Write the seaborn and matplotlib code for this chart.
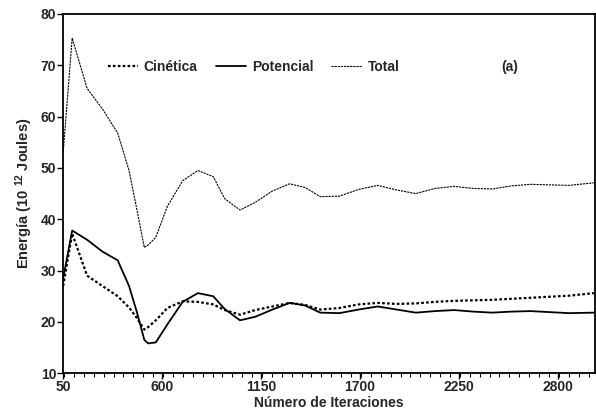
import numpy as np
import pandas as pd
import seaborn as sns
import matplotlib
matplotlib.use("Agg")
import matplotlib.pyplot as plt
from matplotlib.ticker import MultipleLocator, FixedLocator

iteraciones = [50, 100, 183, 268, 353, 416, 459, 501, 523, 565, 629, 714, 799, 884, 948,
               1033, 1118, 1213, 1309, 1394, 1479, 1585, 1692, 1798, 1904, 2010, 2117,
               2223, 2329, 2435, 2542, 2648, 2754, 2861, 3000]
cinetica = [27.0, 37.2, 29.0, 27.0, 25.0, 22.8, 20.8, 18.5, 19.0, 20.3, 22.7, 24.0, 23.9,
            23.4, 22.3, 21.4, 22.3, 23.0, 23.7, 23.3, 22.4, 22.7, 23.4, 23.7, 23.5, 23.6,
            23.9, 24.1, 24.2, 24.3, 24.5, 24.7, 24.9, 25.1, 25.6]
potencial = [28.5, 37.8, 36.0, 33.7, 32.0, 27.0, 22.0, 16.5, 15.8, 16.0, 19.5, 23.9, 25.6,
             25.0, 22.5, 20.3, 21.0, 22.4, 23.7, 23.2, 21.8, 21.7, 22.4, 23.0, 22.4, 21.8,
             22.1, 22.3, 22.0, 21.8, 22.0, 22.1, 21.9, 21.7, 21.8]
total = [53.0, 75.3, 65.5, 61.5, 56.8, 49.5, 42.0, 34.5, 35.0, 36.5, 42.5, 47.5, 49.5,
         48.3, 44.0, 41.8, 43.3, 45.5, 46.9, 46.2, 44.4, 44.5, 45.8, 46.6, 45.7, 45.0,
         46.0, 46.4, 46.0, 45.9, 46.5, 46.8, 46.7, 46.6, 47.1]
series_names = ["Cinética", "Potencial", "Total"]
xticks = [50, 600, 1150, 1700, 2250, 2800]
yticks = [10, 20, 30, 40, 50, 60, 70, 80]

sns.set_style("ticks")
plt.rcParams['font.family'] = ['Liberation Sans', 'DejaVu Sans']
plt.rcParams['font.weight'] = 'bold'
plt.rcParams['mathtext.fontset'] = 'custom'
plt.rcParams['mathtext.bf'] = 'Liberation Sans:bold'
plt.rcParams['mathtext.rm'] = 'Liberation Sans:bold'
plt.rcParams['mathtext.default'] = 'bf'

fig = plt.figure(figsize=(5.96, 4.11), dpi=100)
ax = fig.add_axes([0.106, 0.092, 0.892, 0.874])

df = pd.DataFrame({"x": iteraciones * 3,
                   "y": cinetica + potencial + total,
                   "serie": [series_names[0]] * len(iteraciones)
                            + [series_names[1]] * len(iteraciones)
                            + [series_names[2]] * len(iteraciones)})

styles = {"Cinética": dict(ls=(0, (1.2, 1.0)), lw=1.6),
          "Potencial": dict(ls='-', lw=1.3),
          "Total": dict(ls=(0, (2.0, 0.8)), lw=0.8)}
for name in series_names:
    sub = df[df["serie"] == name]
    sns.lineplot(data=sub, x="x", y="y", ax=ax, color="black", label=name,
                 linestyle=styles[name]["ls"], linewidth=styles[name]["lw"])

ax.set_xlim(50, 3005)
ax.set_ylim(10, 80)
ax.xaxis.set_major_locator(FixedLocator(xticks))
ax.xaxis.set_minor_locator(MultipleLocator(55))
ax.yaxis.set_major_locator(FixedLocator(yticks))
ax.tick_params(axis='both', which='major', labelsize=10, length=4, width=1.0, color='black', pad=1)
ax.tick_params(axis='x', which='minor', length=3, width=0.8, color='black')
for lab in ax.get_xticklabels() + ax.get_yticklabels():
    lab.set_fontweight('bold')
for sp in ax.spines.values():
    sp.set_linewidth(1.3)
    sp.set_color('black')

ax.set_xlabel("Número de Iteraciones", fontsize=10, fontweight='bold', labelpad=1)
ax.set_ylabel("Energía (10 $^{12}$ Joules)", fontsize=10.5, fontweight='bold', labelpad=4)

leg = ax.legend(loc='center left', bbox_to_anchor=(0.06, 0.852), ncol=3, frameon=False,
                handlelength=2.2, handletextpad=0.4, columnspacing=1.3,
                prop={'weight': 'bold', 'size': 10})
ax.text(0.84, 0.852, "(a)", transform=ax.transAxes, fontsize=10, fontweight='bold',
        va='center', ha='center')

fig.savefig("out.png", dpi=100)
